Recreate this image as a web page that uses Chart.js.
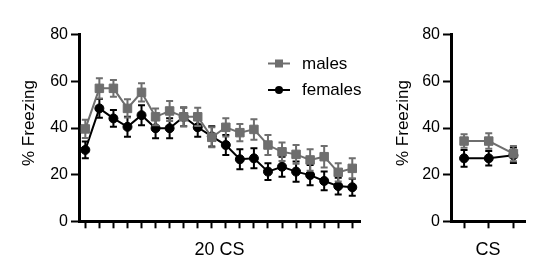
<!DOCTYPE html>
<html><head><meta charset="utf-8">
<script src="https://cdn.jsdelivr.net/npm/chart.js@4/dist/chart.umd.min.js"></script>
<style>
html,body{margin:0;padding:0;background:#fff;width:538px;height:273px;overflow:hidden}
#c1{position:absolute;left:0;top:0}
#c2{position:absolute;left:380px;top:0}
</style></head><body>
<canvas id="c1" width="370" height="273"></canvas>
<canvas id="c2" width="158" height="273"></canvas>
<script>
// ---- data ----
const trials = [1,2,3,4,5,6,7,8,9,10,11,12,13,14,15,16,17,18,19,20];
const malesMean   = [39.6,57.0,57.0,48.4,55.3,44.8,47.3,44.8,44.8,36.0,40.3,38.0,39.4,32.7,29.8,28.7,26.3,27.7,21.0,22.7];
const malesSem    = [3.9,4.3,3.6,3.9,3.9,3.6,4.3,4.0,3.9,4.3,3.9,3.7,4.4,4.3,4.0,4.0,4.6,4.6,3.9,4.3];
const femalesMean = [30.6,48.4,44.1,40.5,45.5,39.9,39.9,44.8,40.3,36.4,32.7,26.6,27.0,21.3,23.4,21.3,19.8,17.3,15.1,14.6];
const femalesSem  = [3.6,4.0,3.6,4.3,4.3,4.3,4.3,4.0,4.1,4.3,4.3,4.3,4.3,3.6,4.3,4.3,4.3,4.0,3.6,3.6];
const csTrials = [1,2,3];
const csMalesMean   = [34.4,34.4,29.0];
const csMalesSem    = [2.9,3.3,3.3];
const csFemalesMean = [27.0,27.0,28.3];
const csFemalesSem  = [3.6,3.1,3.3];
const yTicks = [0,20,40,60,80];
const seriesNames = ['males','females'];
const leftTitle = '20 CS';
const rightTitle = 'CS';
const yTitle = '% Freezing';

// ---- style ----
const FONT = 'Liberation Sans, Arial, Helvetica, sans-serif';
const GRAY = '#6e6e6e';
const BLACK = '#000000';

const errorBars = {
  id: 'errorBars',
  beforeDatasetDraw(chart, args) {
    const ds = chart.data.datasets[args.index];
    if (!ds.errors) return;
    const ys = chart.scales.y;
    const ctx = chart.ctx;
    ctx.save();
    ctx.strokeStyle = ds.borderColor;
    ctx.lineWidth = 2;
    args.meta.data.forEach((pt, i) => {
      const v = ds.data[i].y, e = ds.errors[i];
      const yt = ys.getPixelForValue(v + e), yb = ys.getPixelForValue(v - e);
      const x = pt.x, cw = 3.5;
      ctx.beginPath();
      ctx.moveTo(x, yt); ctx.lineTo(x, yb);
      ctx.moveTo(x - cw, yt); ctx.lineTo(x + cw, yt);
      ctx.moveTo(x - cw, yb); ctx.lineTo(x + cw, yb);
      ctx.stroke();
    });
    ctx.restore();
  }
};

const yTitlePlugin = {
  id: 'yTitle',
  afterDraw(chart, args, opts) {
    const ctx = chart.ctx, ys = chart.scales.y;
    ctx.save();
    ctx.translate(opts.x, (ys.top + ys.bottom) / 2 - 5);
    ctx.rotate(-Math.PI / 2);
    ctx.fillStyle = '#000';
    ctx.font = '17px ' + FONT;
    ctx.textAlign = 'center';
    ctx.textBaseline = 'middle';
    ctx.fillText(yTitle, 0, 0);
    ctx.restore();
  }
};

const legendPlugin = {
  id: 'customLegend',
  afterDraw(chart) {
    const ctx = chart.ctx;
    const x0 = 268, x1 = 290, xm = 279, xt = 302;
    const rows = [63.5, 90];
    chart.data.datasets.forEach((ds, i) => {
      const y = rows[i];
      ctx.save();
      ctx.strokeStyle = ds.borderColor; ctx.lineWidth = 2;
      ctx.beginPath(); ctx.moveTo(x0, y); ctx.lineTo(x1, y); ctx.stroke();
      ctx.fillStyle = ds.borderColor;
      if (ds.pointStyle === 'rect') { ctx.fillRect(xm - 4, y - 4, 8, 8); }
      else { ctx.beginPath(); ctx.arc(xm, y, 4, 0, Math.PI * 2); ctx.fill(); }
      ctx.fillStyle = '#000';
      ctx.font = '17px ' + FONT;
      ctx.textBaseline = 'middle';
      ctx.textAlign = 'left';
      ctx.fillText(ds.label, xt, y + 0.5);
      ctx.restore();
    });
  }
};

function ds(label, xs, means, sems, color, style) {
  return {
    label: label,
    data: xs.map((x, i) => ({x: x, y: means[i]})),
    errors: sems,
    borderColor: color, backgroundColor: color,
    pointBackgroundColor: color, pointBorderColor: color,
    borderWidth: 2, tension: 0,
    pointStyle: style,
    pointRadius: style === 'rect' ? 6 : 4.5,
    pointBorderWidth: 1,
    clip: false
  };
}

function makeChart(id, xs, mMean, mSem, fMean, fSem, xmin, xmax, xTitle, yAxisWidth, rightPad, yTitleX, withLegend) {
  return new Chart(document.getElementById(id), {
    type: 'line',
    data: { datasets: [
      ds(seriesNames[0], xs, mMean, mSem, GRAY, 'rect'),
      ds(seriesNames[1], xs, fMean, fSem, BLACK, 'circle')
    ]},
    options: {
      responsive: false, animation: false, devicePixelRatio: 1,
      layout: { padding: { top: 34.7, right: rightPad, bottom: 0, left: 0 } },
      plugins: { legend: { display: false }, tooltip: { enabled: false }, yTitle: { x: yTitleX } },
      scales: {
        x: {
          type: 'linear', min: xmin, max: xmax,
          afterBuildTicks: s => { s.ticks = xs.map(v => ({value: v})); },
          afterFit: s => { s.height = 273 - 221.3; },
          grid: { drawOnChartArea: false, drawTicks: true, tickLength: 7, tickWidth: 2, tickColor: '#000', color: '#000' },
          border: { display: true, color: '#000', width: 3 },
          ticks: { callback: () => '', padding: 0 },
          title: { display: true, text: xTitle, color: '#000', font: { family: FONT, size: 18 }, padding: { top: 0, bottom: 12.5 } }
        },
        y: {
          min: 0, max: 80,
          afterBuildTicks: s => { s.ticks = yTicks.map(v => ({value: v})); },
          afterFit: s => { s.width = yAxisWidth; },
          grid: { drawOnChartArea: false, drawTicks: true, tickLength: 8, tickWidth: 2, tickColor: '#000', color: '#000' },
          border: { display: true, color: '#000', width: 3 },
          ticks: { color: '#000', font: { family: FONT, size: 16 }, padding: 3 }
        }
      }
    },
    plugins: withLegend ? [errorBars, yTitlePlugin, legendPlugin] : [errorBars, yTitlePlugin]
  });
}

makeChart('c1', trials, malesMean, malesSem, femalesMean, femalesSem, 0.55, 20.55, leftTitle, 79, 10, 29, true);
makeChart('c2', csTrials, csMalesMean, csMalesSem, csFemalesMean, csFemalesSem, 0.47, 3.47, rightTitle, 71, 13, 23, false);
</script>
</body></html>
